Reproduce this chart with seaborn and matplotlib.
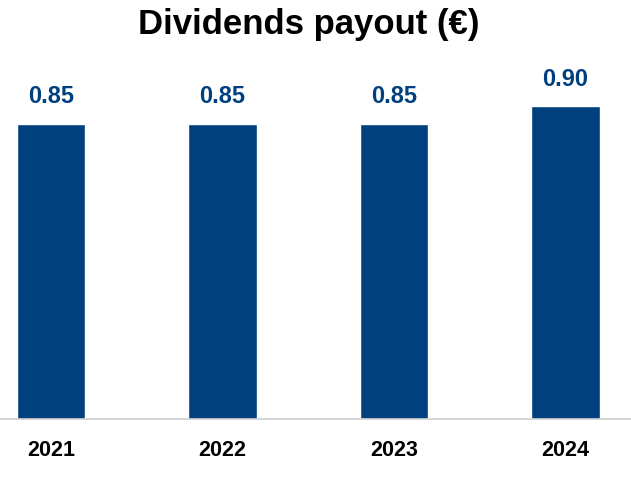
import numpy as np
import matplotlib
matplotlib.use("Agg")
import matplotlib.pyplot as plt
import seaborn as sns

years = ["2021", "2022", "2023", "2024"]
payout = [0.85, 0.85, 0.85, 0.90]
labels = ["0.85", "0.85", "0.85", "0.90"]

sns.set_theme(style="white")
plt.rcParams['font.family'] = ['Liberation Sans', 'DejaVu Sans']

bar_color = "#00407F"

fig = plt.figure(figsize=(6.31, 4.78), dpi=100)
ax = fig.add_axes([0, 1 - 419 / 478, 1, (419 - 60) / 478])

sns.barplot(x=years, y=payout, color=bar_color, width=0.4, saturation=1, ax=ax)
ax.bar_label(ax.containers[0], labels=labels, padding=11, color=bar_color,
             fontsize=17, fontweight="bold")

ax.set_xlim(-0.297, 3.382)
ax.set_ylim(0, 359 / 347.5)
ax.set_yticks([])
ax.set_xlabel("")
ax.set_ylabel("")
for s in ["top", "left", "right"]:
    ax.spines[s].set_visible(False)
ax.spines["bottom"].set_color("#d0d0d0")
ax.spines["bottom"].set_linewidth(1.2)
ax.tick_params(axis="x", length=0, pad=15, labelsize=15.5)
for t in ax.get_xticklabels():
    t.set_fontweight("bold")
    t.set_color("black")

fig.text(0.49, 0.948, "Dividends payout (€)", ha="center", va="center",
         fontsize=25, fontweight="bold", color="black")

fig.savefig("out.png", dpi=100)
